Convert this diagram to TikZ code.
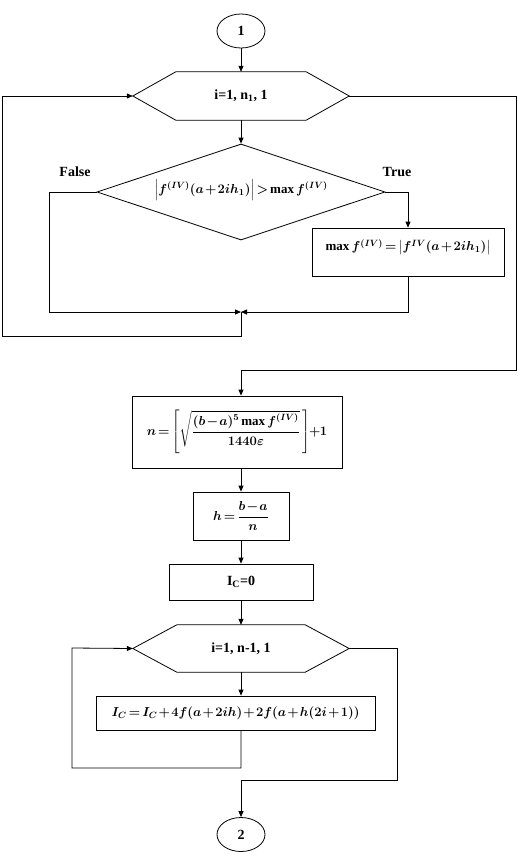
\RequirePackage{fix-cm}
\documentclass[tikz,border=0pt]{standalone}
\usepackage{amsmath}
\usepackage{fontspec}
\setmainfont{Liberation Serif}
\usetikzlibrary{arrows.meta,shapes.geometric,calc}
\newcommand\tightmu{\medmuskip=1.5mu\relax\thickmuskip=2.5mu\relax\thinmuskip=2.5mu\relax}
\tikzset{
  txt/.style={font=\fontsize{14}{17}\selectfont\bfseries\boldmath},
  mtxt/.style={font=\fontsize{13}{16}\selectfont\bfseries\boldmath\tightmu},
  proc/.style={draw, rectangle, inner sep=0pt, line width=0.8pt},
  hexnode/.style={rectangle, inner sep=0pt},
  term/.style={draw, ellipse, inner sep=0pt, minimum width=48pt, minimum height=34pt, line width=0.8pt},
  conn/.style={-{Triangle[length=6pt,width=5pt]}, line width=0.8pt},
  link/.style={line width=0.8pt},
}
\newcommand\hexdraw[2]{\draw[link] (#1.west) -- ([xshift=#2]#1.north west) -- ([xshift=-#2]#1.north east) -- (#1.east) -- ([xshift=-#2]#1.south east) -- ([xshift=#2]#1.south west) -- cycle;}
\begin{document}
\begin{tikzpicture}[x=1pt,y=-1pt,every node/.style={txt}]
\useasboundingbox (0,0) rectangle (518,864);
% nodes
\node[term] (o1) at (241,31) {1};
\node[hexnode, minimum width=216pt, minimum height=48pt] (h1) at (241,96) {i=1, n\textsubscript{1}, 1};
\hexdraw{h1}{43pt}
\node[draw, diamond, aspect=3, inner sep=0pt, minimum width=288pt, minimum height=96pt, line width=0.8pt, mtxt] (cond) at (241,192)
  {\raisebox{11pt}{$\left|f^{(IV)}(a+2ih_1)\right|>\max f^{(IV)}$}};
\node (lf) at (75,172) {False};
\node (lt) at (397,172) {True};
\node[proc, minimum width=192pt, minimum height=48pt, mtxt] (b1) at (408,252)
  {\raisebox{14pt}{$\max f^{(IV)}=\left|f^{IV}(a+2ih_1)\right|$}};
\coordinate (m) at (241,312);
\coordinate (c1) at (241,370);
\node[proc, minimum width=210pt, minimum height=72pt, mtxt] (bn) at (237,432)
  {$n=\left[\sqrt{\dfrac{(b-a)^5\max f^{(IV)}}{1440\varepsilon}}\,\right]\!+\!1$};
\node[proc, minimum width=96pt, minimum height=48pt, mtxt] (bh) at (241,516) {$h=\dfrac{b-a}{n}$};
\node[proc, minimum width=144pt, minimum height=36pt] (bic) at (241,582) {I\textsubscript{C}=0};
\node[hexnode, minimum width=216pt, minimum height=47pt] (h2) at (241,648.5) {i=1, n-1, 1};
\hexdraw{h2}{44pt}
\node[proc, minimum width=279pt, minimum height=34pt, mtxt] (bf) at (235.5,713)
  {$I_C=I_C+4f(a+2ih)+2f(a+h(2i+1))$};
\node[term] (o2) at (241,834.5) {2};
% connectors
\draw[conn] (o1.south) -- (h1.north);
\draw[conn] (h1.south) -- (cond.north);
\draw[conn] (cond.west) -- (49,192) |- (m);
\draw[conn] (cond.east) -| (b1.north);
\draw[conn] (b1.south) |- (m);
\draw[conn] (m) -- (241,336) -- (2,336) |- (h1.west);
\draw[conn] (h1.east) -| (516,370) -- (c1) -- (c1 |- bn.north);
\draw[conn] (bh.north |- bn.south) -- (bh.north);
\draw[conn] (bh.south) -- (bic.north);
\draw[conn] (bic.south) -- (h2.north);
\draw[conn] (h2.south) -- (h2.south |- bf.north);
\draw[conn] (h2.south |- bf.south) -- (241,768) -| (72,648) -- (h2.west);
\draw[conn] (h2.east) -| (397,780) -- (241,780) -- (o2.north);
\end{tikzpicture}
\end{document}
